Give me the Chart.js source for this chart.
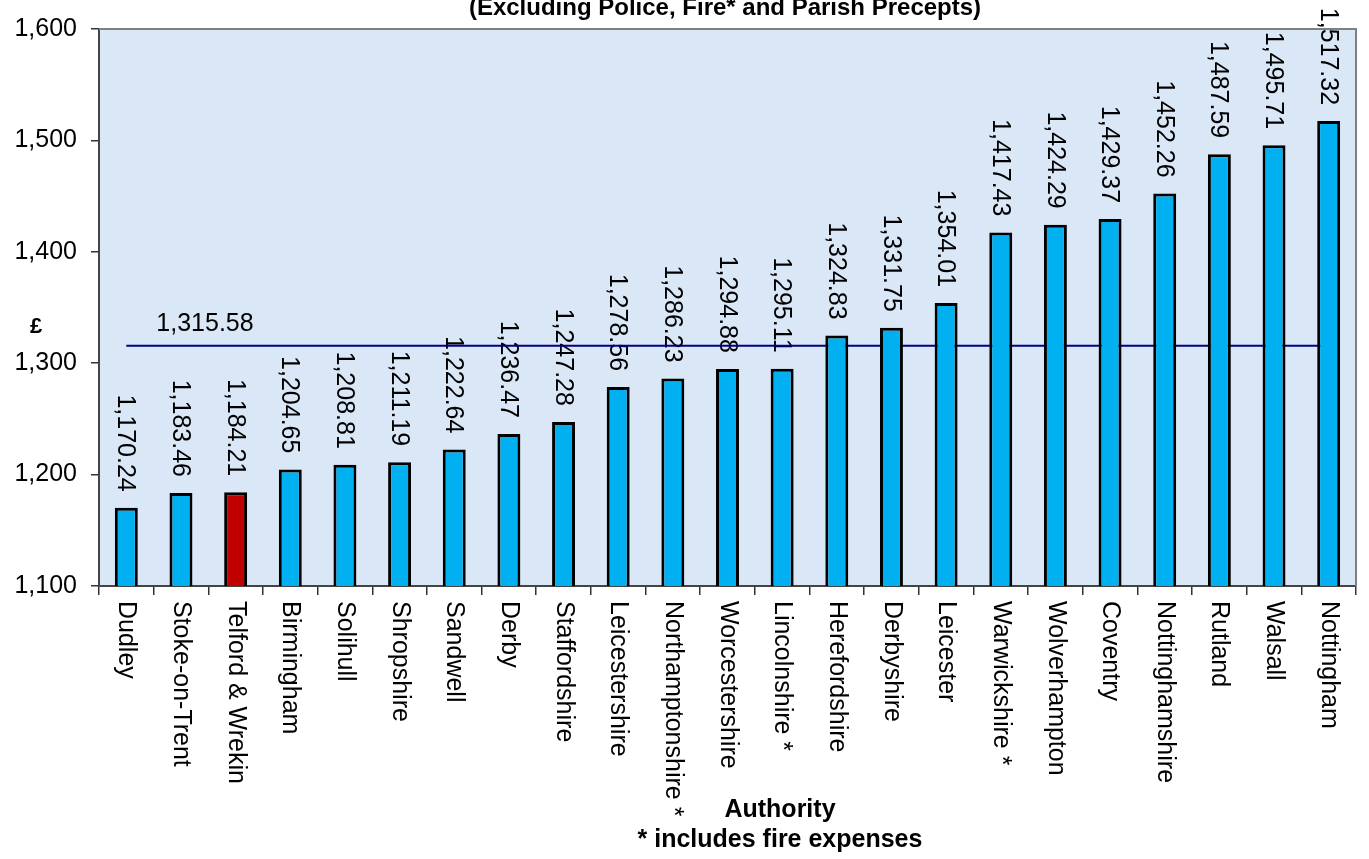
<!DOCTYPE html>
<html lang="en">
<head>
    <meta charset="UTF-8">
    <title>Council Tax by Authority</title>
    <script src="https://cdn.jsdelivr.net/npm/chart.js"></script>
    <style>
        html, body {
            margin: 0;
            padding: 0;
            background: #ffffff;
        }
        .chart-container {
            position: relative;
            width: 1369px;
            height: 859px;
        }
    </style>
</head>
<body>
    <div class="chart-container">
        <canvas id="taxChart"></canvas>
    </div>

    <script>
        // Data
        const authorities = ['Dudley', 'Stoke-on-Trent', 'Telford & Wrekin', 'Birmingham', 'Solihull',
            'Shropshire', 'Sandwell', 'Derby', 'Staffordshire', 'Leicestershire', 'Northamptonshire *',
            'Worcestershire', 'Lincolnshire *', 'Herefordshire', 'Derbyshire', 'Leicester', 'Warwickshire *',
            'Wolverhampton', 'Coventry', 'Nottinghamshire', 'Rutland', 'Walsall', 'Nottingham'];
        const taxValues = [1170.24, 1183.46, 1184.21, 1204.65, 1208.81, 1211.19, 1222.64, 1236.47,
            1247.28, 1278.56, 1286.23, 1294.88, 1295.11, 1324.83, 1331.75, 1354.01, 1417.43,
            1424.29, 1429.37, 1452.26, 1487.59, 1495.71, 1517.32];
        const averageValue = 1315.58;
        const highlighted = 'Telford & Wrekin';
        const yTicks = [1100, 1200, 1300, 1400, 1500, 1600];

        const FONT = '"Liberation Sans", Arial, sans-serif';
        const fmt = v => v.toLocaleString('en-US', { minimumFractionDigits: 2, maximumFractionDigits: 2 });

        // plot background and loose texts
        const decorPlugin = {
            id: 'decor',
            beforeDraw(chart) {
                const { ctx, chartArea: a } = chart;
                ctx.save();
                ctx.fillStyle = '#ffffff';
                ctx.fillRect(0, 0, chart.width, chart.height);
                ctx.fillStyle = '#dae7f7';
                ctx.fillRect(a.left, a.top, a.right - a.left, a.bottom - a.top);
                ctx.restore();
            },
            beforeDatasetsDraw(chart) {
                const { ctx } = chart;
                const meta = chart.getDatasetMeta(0);
                const y = chart.scales.y;
                ctx.save();
                ctx.fillStyle = '#000';
                ctx.font = '25px ' + FONT;
                ctx.textAlign = 'right';
                ctx.textBaseline = 'middle';
                meta.data.forEach((bar, i) => {
                    ctx.save();
                    ctx.translate(bar.x, y.getPixelForValue(taxValues[i]) - 16);
                    ctx.rotate(Math.PI / 2);
                    ctx.fillText(fmt(taxValues[i]), 0, 1);
                    ctx.restore();
                });
                // average label
                ctx.textAlign = 'center';
                ctx.fillText(fmt(averageValue), meta.data[1].x + 24, y.getPixelForValue(averageValue) - 22);
                ctx.restore();
            },
            afterDraw(chart) {
                const { ctx, chartArea: a } = chart;
                const meta = chart.getDatasetMeta(0);
                ctx.save();
                // top and right border
                ctx.strokeStyle = '#808080';
                ctx.lineWidth = 2;
                ctx.beginPath();
                ctx.moveTo(a.left, a.top);
                ctx.lineTo(a.right, a.top);
                ctx.lineTo(a.right, a.bottom);
                ctx.stroke();

                // category labels, rotated clockwise
                ctx.fillStyle = '#000';
                ctx.font = '25px ' + FONT;
                ctx.textAlign = 'left';
                ctx.textBaseline = 'middle';
                meta.data.forEach((bar, i) => {
                    ctx.save();
                    ctx.translate(bar.x, a.bottom + 15);
                    ctx.rotate(Math.PI / 2);
                    ctx.fillText(authorities[i], 0, 0);
                    ctx.restore();
                });

                ctx.textAlign = 'center';
                ctx.font = 'bold 24px ' + FONT;
                ctx.textBaseline = 'alphabetic';
                ctx.fillText('(Excluding Police, Fire* and Parish Precepts)', 725, 15);
                ctx.textBaseline = 'middle';
                ctx.font = 'bold 25px ' + FONT;
                ctx.fillText('Authority', 780, 810);
                ctx.fillText('* includes fire expenses', 780, 840);
                ctx.font = 'bold 22px ' + FONT;
                ctx.fillText('£', 36, 327);
                ctx.restore();
            }
        };

        new Chart(document.getElementById('taxChart'), {
            type: 'bar',
            data: {
                labels: authorities,
                datasets: [
                    {
                        type: 'bar',
                        label: 'Band D',
                        data: taxValues,
                        backgroundColor: authorities.map(n => n === highlighted ? '#c00000' : '#00b0f0'),
                        borderColor: '#000000',
                        borderWidth: 3,
                        borderSkipped: 'bottom',
                        barPercentage: 0.42,
                        categoryPercentage: 1,
                        order: 1
                    },
                    {
                        type: 'line',
                        label: 'Average',
                        data: authorities.map(() => averageValue),
                        borderColor: '#000080',
                        borderWidth: 2,
                        pointRadius: 0,
                        fill: false,
                        order: 2
                    }
                ]
            },
            options: {
                responsive: true,
                maintainAspectRatio: false,
                animation: false,
                layout: {
                    padding: { top: 26, right: 13, left: 0, bottom: 0 }
                },
                scales: {
                    x: {
                        offset: true,
                        grid: {
                            offset: true,
                            drawOnChartArea: false,
                            drawTicks: true,
                            tickLength: 9,
                            color: '#333333',
                            lineWidth: 1.5
                        },
                        border: { color: '#444444', width: 2 },
                        ticks: { display: false },
                        afterFit(scale) { scale.height = 273; }
                    },
                    y: {
                        min: 1100,
                        max: 1600,
                        afterBuildTicks(scale) { scale.ticks = yTicks.map(v => ({ value: v })); },
                        grid: {
                            drawOnChartArea: false,
                            drawTicks: true,
                            tickLength: 8,
                            color: '#333333',
                            lineWidth: 1.5
                        },
                        border: { color: '#444444', width: 2 },
                        ticks: {
                            color: '#000000',
                            padding: 14,
                            font: { family: FONT, size: 25 }
                        },
                        afterFit(scale) { scale.width = 99; }
                    }
                },
                plugins: {
                    legend: { display: false },
                    tooltip: { enabled: false }
                }
            },
            plugins: [decorPlugin]
        });
    </script>
</body>
</html>
